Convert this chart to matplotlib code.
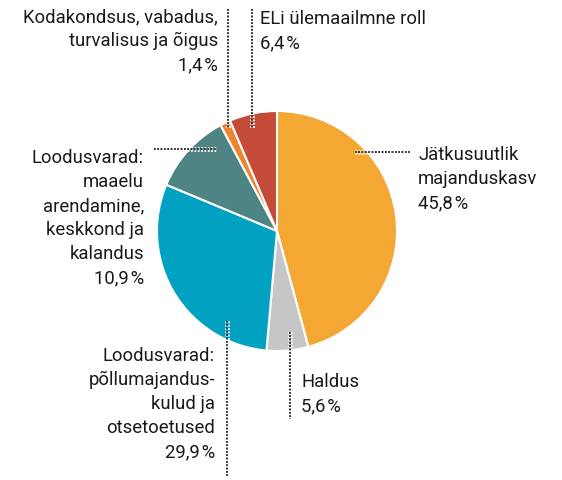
import matplotlib
matplotlib.use("Agg")
import matplotlib.pyplot as plt
import matplotlib.patheffects as pe

categories = ["Jätkusuutlik\nmajanduskasv", "Haldus", "Loodusvarad:\npõllumajandus-\nkulud ja\notsetoetused",
              "Loodusvarad:\nmaaelu\narendamine,\nkeskkond ja\nkalandus",
              "Kodakondsus, vabadus,\nturvalisus ja õigus", "ELi ülemaailmne roll"]
values = [45.8, 5.6, 29.9, 10.9, 1.4, 6.4]
colors = ["#F5A733", "#C6C6C6", "#00A1C1", "#4F8485", "#EC8430", "#C34B37"]

W, H = 562, 481
fig = plt.figure(figsize=(W / 100, H / 100), dpi=100)
ax = fig.add_axes([0, 0, 1, 1])

cx, cy, r = 277, 232, 120
# y axis inverted: start at data angle -90 (visual top), counterclock in data = clockwise visually
ax.pie(values, colors=colors, startangle=-90, counterclock=True, radius=r, center=(cx, cy),
       wedgeprops=dict(edgecolor="white", linewidth=1.5), frame=True)
ax.set_xlim(0, W)
ax.set_ylim(H, 0)
ax.set_aspect("equal")
ax.axis("off")

def lbl(v):
    return f"{v:.1f}".replace(".", ",") + "\u200a%"

font = dict(family=["Roboto", "DejaVu Sans"], size=13.3, color="#1a1a1a", linespacing=1.43)

# leader lines (pixel coords)
leaders = [
    ((355, 410), (153, 153)),
    ((290, 290), (333, 420)),
    ((227, 227), (322, 478)),
    ((154, 217), (150, 150)),
    ((228, 228), (10, 130)),
    ((252, 252), (10, 130)),
]
for xs, ys in leaders:
    ax.plot(xs, ys, linestyle=(0, (1, 1)), color="#333333", linewidth=1.2,
            path_effects=[pe.withStroke(linewidth=3.5, foreground="white"), pe.Normal()])

texts = [
    (418, 146, "left"),
    (301, 373, "left"),
    (215, 347, "right"),
    (144, 149, "right"),
    (218, 8, "right"),
    (260, 10, "left"),
]
for (x, y, ha), c, v in zip(texts, categories, values):
    ax.text(x, y, c + "\n" + lbl(v), ha=ha, va="top", multialignment=ha, **font)

fig.savefig("out.png", dpi=100, facecolor="white")
